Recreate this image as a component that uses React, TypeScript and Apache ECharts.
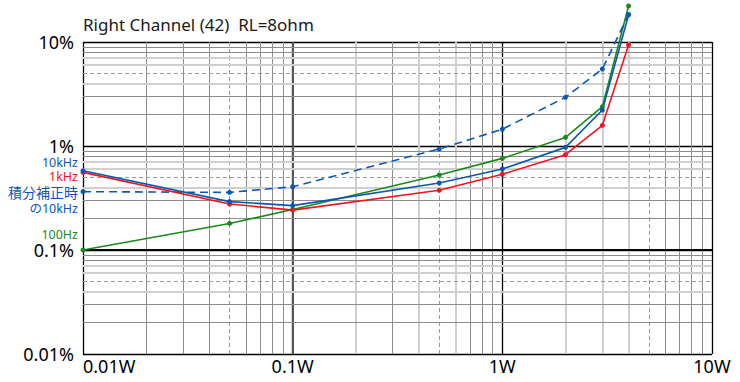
import React, { useEffect, useRef } from "react";
import * as echarts from "echarts";

// Output power (W)
const powerW = [0.01, 0.05, 0.1, 0.5, 1, 2, 3, 4];
// THD+N (%) per series
const thd100Hz = [0.1, 0.18, 0.245, 0.526, 0.76, 1.21, 2.39, 22.2];
const thd1kHz = [0.558, 0.277, 0.242, 0.375, 0.535, 0.825, 1.58, 9.35];
const thd10kHz = [0.579, 0.292, 0.267, 0.441, 0.601, 0.97, 2.22, 18.2];
const thd10kHzComp = [0.364, 0.358, 0.406, 0.936, 1.45, 2.94, 5.5, 18.4];

const xTickLabels = ["0.01W", "0.1W", "1W", "10W"];
const yTickLabels = ["0.01%", "0.1%", "1%", "10%"];

const decadesX = [0.01, 0.1, 1];
const decadesY = [0.01, 0.1, 1];
const minorMult = [2, 3, 4, 5, 6, 7, 8, 9];
const xLightMinor = [0.2, 0.4, 0.6, 2, 3, 4];
const yLightMinor = [0.04, 0.06, 0.07, 0.4, 0.6, 0.7, 4, 6, 7];

const GREEN = "#1a8a1a";
const BLUE = "#0a58b4";
const RED = "#f0141c";
const FONT = "'Noto Sans', 'Noto Sans CJK JP', sans-serif";

const r = (v: number) => Number(v.toPrecision(3));

function minorStyle(v: number, light: number[], m: number) {
  if (m === 5) return { color: "#9a9a9a", width: 1, type: [4, 3] as any };
  if (light.some((l) => Math.abs(l - v) < 1e-9)) return { color: "#cfcfcf", width: 2, type: "solid" as any };
  return { color: "#8c8c8c", width: 1, type: "solid" as any };
}

export default function App() {
  const ref = useRef<HTMLDivElement>(null);
  useEffect(() => {
    if (!ref.current) return;
    const chart = echarts.init(ref.current, undefined, { renderer: "svg" });

    const xLines: any[] = [];
    decadesX.forEach((d) =>
      minorMult.forEach((m) => {
        const v = r(d * m);
        xLines.push({ xAxis: v, lineStyle: minorStyle(v, xLightMinor, m) });
      })
    );
    xLines.push({ xAxis: 0.1, lineStyle: { color: "#555", width: 2, type: "solid" } });
    const yLines: any[] = [];
    decadesY.forEach((d) =>
      minorMult.forEach((m) => {
        const v = r(d * m);
        yLines.push({ yAxis: v, lineStyle: minorStyle(v, yLightMinor, m) });
      })
    );
    yLines.push({ yAxis: 0.1, lineStyle: { color: "#000", width: 2, type: "solid" } });

    const mk = (name: string, vals: number[], color: string, dashed = false) => ({
      name,
      type: "line",
      data: powerW.map((p, i) => [p, vals[i]]),
      clip: false,
      z: 5,
      symbol: "circle",
      symbolSize: 5,
      itemStyle: { color },
      lineStyle: { color, width: 1.6, type: dashed ? [8, 5] : "solid" },
    });

    const lbl = (text: string, y: number, color: string, size = 12.5) => ({
      type: "text",
      x: 78,
      y,
      style: { text, align: "right", verticalAlign: "middle", font: `${size}px ${FONT}`, lineHeight: size, fill: color },
    });

    chart.setOption({
      animation: false,
      textStyle: { fontFamily: FONT },
      grid: { left: 83, right: 28, top: 42, bottom: 28 },
      xAxis: {
        type: "log",
        logBase: 10,
        min: 0.01,
        max: 10,
        axisLine: { show: false },
        axisTick: { show: false },
        axisLabel: {
          fontSize: 18,
          color: "#000",
          fontFamily: FONT,
          margin: 3,
          alignMinLabel: "left",
          formatter: (_v: number, i: number) => xTickLabels[i],
        },
        splitLine: { show: true, lineStyle: { color: "#000", width: 1.3 } },
      },
      yAxis: {
        type: "log",
        logBase: 10,
        min: 0.01,
        max: 10,
        axisLine: { show: false },
        axisTick: { show: false },
        axisLabel: {
          fontSize: 18,
          color: "#000",
          fontFamily: FONT,
          margin: 9,
          lineHeight: 18,
          formatter: (_v: number, i: number) => yTickLabels[i],
        },
        splitLine: { show: true, lineStyle: { color: "#000", width: 1.3 } },
      },
      series: [
        {
          type: "line",
          data: [[0.01, 0.01]],
          symbol: "none",
          silent: true,
          z: 1,
          lineStyle: { opacity: 0 },
          markLine: {
            silent: true,
            symbol: ["none", "none"],
            label: { show: false },
            animation: false,
            data: [...xLines, ...yLines],
          },
        },
        mk("100Hz", thd100Hz, GREEN),
        mk("積分補正時の10kHz", thd10kHzComp, BLUE, true),
        mk("1kHz", thd1kHz, RED),
        mk("10kHz", thd10kHz, BLUE),
      ],
      graphic: [
        { type: "text", x: 83, y: 16, style: { text: "Right Channel (42)  RL=8ohm", font: `17px ${FONT}`, fill: "#1a1a1a" } },
        lbl("10kHz", 162, BLUE),
        lbl("1kHz", 176, RED),
        lbl("積分補正時", 192, BLUE, 14),
        lbl("の10kHz", 208, BLUE),
        lbl("100Hz", 234, GREEN),
      ],
    });
    return () => chart.dispose();
  }, []);
  return <div ref={ref} style={{ width: 740, height: 382, position: "absolute", left: 0, top: 0 }} />;
}
